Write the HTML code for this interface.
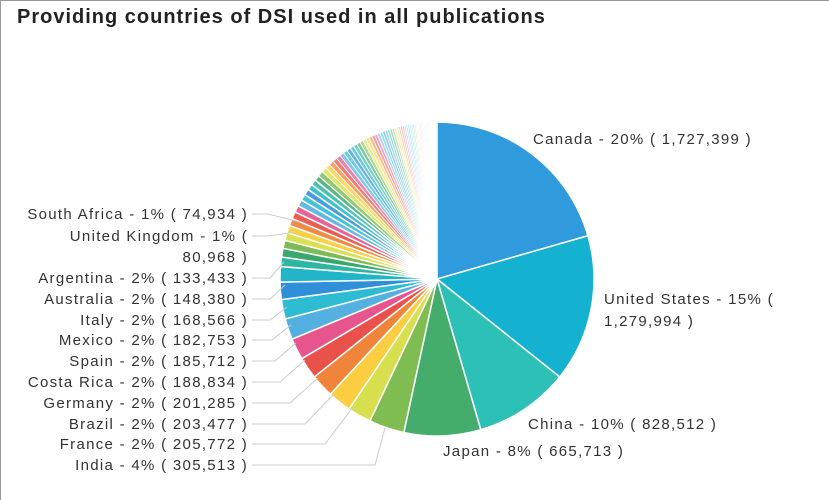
<!DOCTYPE html>
<html><head><meta charset="utf-8"><style>
html,body{margin:0;padding:0;background:#fff}
#c{position:relative;width:829px;height:500px;overflow:hidden;box-sizing:border-box;border-left:1px solid #999;border-top:1px solid #999}
h1{position:absolute;left:16px;top:5px;margin:0;font:bold 20px "Liberation Sans",sans-serif;letter-spacing:1px;color:#222}
svg text{font-family:"Liberation Sans",sans-serif;font-size:15px;letter-spacing:1.3px;fill:#333}
</style></head><body><div id="c"><h1>Providing countries of DSI used in all publications</h1>
<svg id="s" width="829" height="500" style="position:absolute;left:-1px;top:-1px">
<g id="p"></g>
<g stroke="#c8ccd2" fill="none" stroke-width="1">
<polyline points="252,214 268,214 300,222"/>
<polyline points="252,236 268,236 296,232"/>
<polyline points="252,278 270,278 284,262"/>
<polyline points="252,299 270,299 285,285"/>
<polyline points="252,320 270,320 287,307"/>
<polyline points="252,340 272,340 291,325"/>
<polyline points="252,361 275,361 296,343"/>
<polyline points="252,382 280,382 305,360"/>
<polyline points="252,403 290,403 318,378"/>
<polyline points="252,424 305,424 334,394"/>
<polyline points="252,444 325,444 353,407"/>
<polyline points="252,465 375,465 385,428"/>
</g>
<g text-anchor="end">
<text x="248" y="219">South Africa - 1% ( 74,934 )</text>
<text x="248" y="241">United Kingdom - 1% (</text>
<text x="248" y="262">80,968 )</text>
<text x="248" y="283">Argentina - 2% ( 133,433 )</text>
<text x="248" y="304">Australia - 2% ( 148,380 )</text>
<text x="248" y="325">Italy - 2% ( 168,566 )</text>
<text x="248" y="345">Mexico - 2% ( 182,753 )</text>
<text x="248" y="366">Spain - 2% ( 185,712 )</text>
<text x="248" y="387">Costa Rica - 2% ( 188,834 )</text>
<text x="248" y="408">Germany - 2% ( 201,285 )</text>
<text x="248" y="429">Brazil - 2% ( 203,477 )</text>
<text x="248" y="449">France - 2% ( 205,772 )</text>
<text x="248" y="470">India - 4% ( 305,513 )</text>
</g>
<text x="533" y="144">Canada - 20% ( 1,727,399 )</text>
<text x="604" y="304">United States - 15% (</text>
<text x="604" y="326">1,279,994 )</text>
<text x="528" y="429">China - 10% ( 828,512 )</text>
<text x="443" y="456">Japan - 8% ( 665,713 )</text>
</svg></div>
<script>
var cx=437,cy=279,r=157,g=document.getElementById('p');
var big=[[74,'#2f9bdc'],[54.6,'#15b1d0'],[35.2,'#2dc0b6'],[28.4,'#45ad6c'],[13.1,'#7fbd52'],[8.8,'#d8df4e'],[8.7,'#fbcd40'],[8.6,'#f0843a'],[8.1,'#e8524a'],[7.96,'#e6568c'],[7.8,'#55b0e2'],[7.2,'#2dbcd2'],[6.4,'#2f8fd8'],[5.7,'#22b5c8'],[3.5,'#2fb5a0'],[3.2,'#3aa86e']];
var pal=['#7cbb55','#d8df4e','#fbcd40','#f0843a','#e8524a','#e6568c','#55b0e2','#2dbcd2','#2f8fd8','#22b5c8','#2fb5a0','#3aa86e'];
var used=0;big.forEach(function(b){used+=b[0]});
var rem=360-used,n=70,w=[],sw=0;
for(var i=0;i<n;i++){var v=Math.pow(0.965,i);w.push(v);sw+=v;}
w.forEach(function(v,i){var op=Math.max(0.15,1-i/n*1.1);big.push([v/sw*rem,pal[i%12],op]);});
function pt(a){a=a*Math.PI/180;return [cx+r*Math.sin(a),cy-r*Math.cos(a)];}
var a=0,h='';
big.forEach(function(b){var a2=a+b[0],p1=pt(a),p2=pt(a2),l=b[0]>180?1:0;
h+='<path d="M'+cx+','+cy+'L'+p1[0].toFixed(2)+','+p1[1].toFixed(2)+'A'+r+','+r+' 0 '+l+' 1 '+p2[0].toFixed(2)+','+p2[1].toFixed(2)+'Z" fill="'+b[1]+'" fill-opacity="'+(b[2]||1)+'" stroke="#fff" stroke-width="'+(b[0]>2?1.5:0.8)+'"/>';a=a2;});
g.innerHTML=h;
</script></body></html>
